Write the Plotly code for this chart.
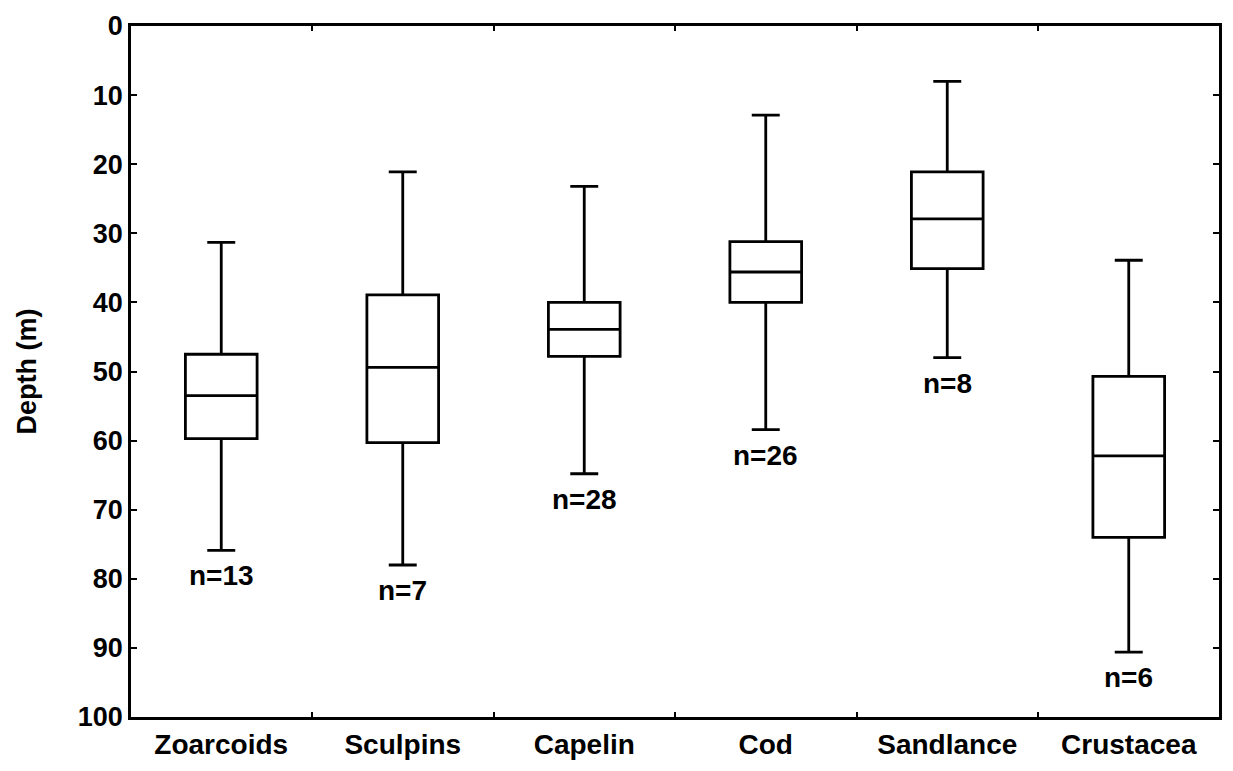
import plotly.graph_objects as go

categories = ["Zoarcoids", "Sculpins", "Capelin", "Cod", "Sandlance", "Crustacea"]
upper_whisker = [31.3, 21.1, 23.2, 12.9, 8.0, 33.9]
q1_vals = [47.5, 38.9, 40.0, 31.2, 21.1, 50.7]
median_vals = [53.5, 49.4, 43.9, 35.6, 27.9, 62.2]
q3_vals = [59.7, 60.3, 47.8, 40.0, 35.1, 74.0]
lower_whisker = [75.9, 78.0, 64.8, 58.4, 48.0, 90.6]
n_labels = ["n=13", "n=7", "n=28", "n=26", "n=8", "n=6"]
y_ticks = [0, 10, 20, 30, 40, 50, 60, 70, 80, 90, 100]

FONT = "Liberation Sans, Arial, sans-serif"

fig = go.Figure()
fig.add_trace(go.Box(
    x=categories,
    q1=q1_vals,
    median=median_vals,
    q3=q3_vals,
    lowerfence=upper_whisker,
    upperfence=lower_whisker,
    fillcolor="white",
    line=dict(color="black", width=2.8),
    whiskerwidth=0.39,
    width=0.395,
    boxpoints=False,
    showlegend=False,
    hoverinfo="skip",
))

for cat, lw, lab in zip(categories, lower_whisker, n_labels):
    fig.add_annotation(
        x=cat, y=lw, text="<b>%s</b>" % lab, showarrow=False,
        yanchor="top", yshift=-8,
        font=dict(family=FONT, size=28, color="black"),
    )

fig.update_layout(
    width=1233, height=771,
    margin=dict(l=131, r=11, t=23, b=52),
    paper_bgcolor="white", plot_bgcolor="white",
    font=dict(family=FONT, color="black"),
)
fig.update_xaxes(
    type="category",
    showline=True, linecolor="black", linewidth=2.8, mirror="ticks",
    ticks="inside", tickson="boundaries", ticklen=5, tickwidth=2, tickcolor="black",
    showgrid=False, zeroline=False,
    tickfont=dict(family=FONT, size=28, color="black"),
    tickprefix="<b>", ticksuffix="</b>",
)
fig.update_yaxes(
    range=[100, 0], tickvals=y_ticks,
    ticktext=["<b>%d</b>" % v for v in y_ticks],
    showline=True, linecolor="black", linewidth=2.8, mirror="ticks",
    ticks="inside", ticklen=6, tickwidth=2, tickcolor="black",
    showgrid=False, zeroline=False,
    tickfont=dict(family=FONT, size=27, color="black"),
    title=dict(text="<b>Depth (m)</b>", font=dict(family=FONT, size=27, color="black"), standoff=34),
)

fig.write_html("out.html")
